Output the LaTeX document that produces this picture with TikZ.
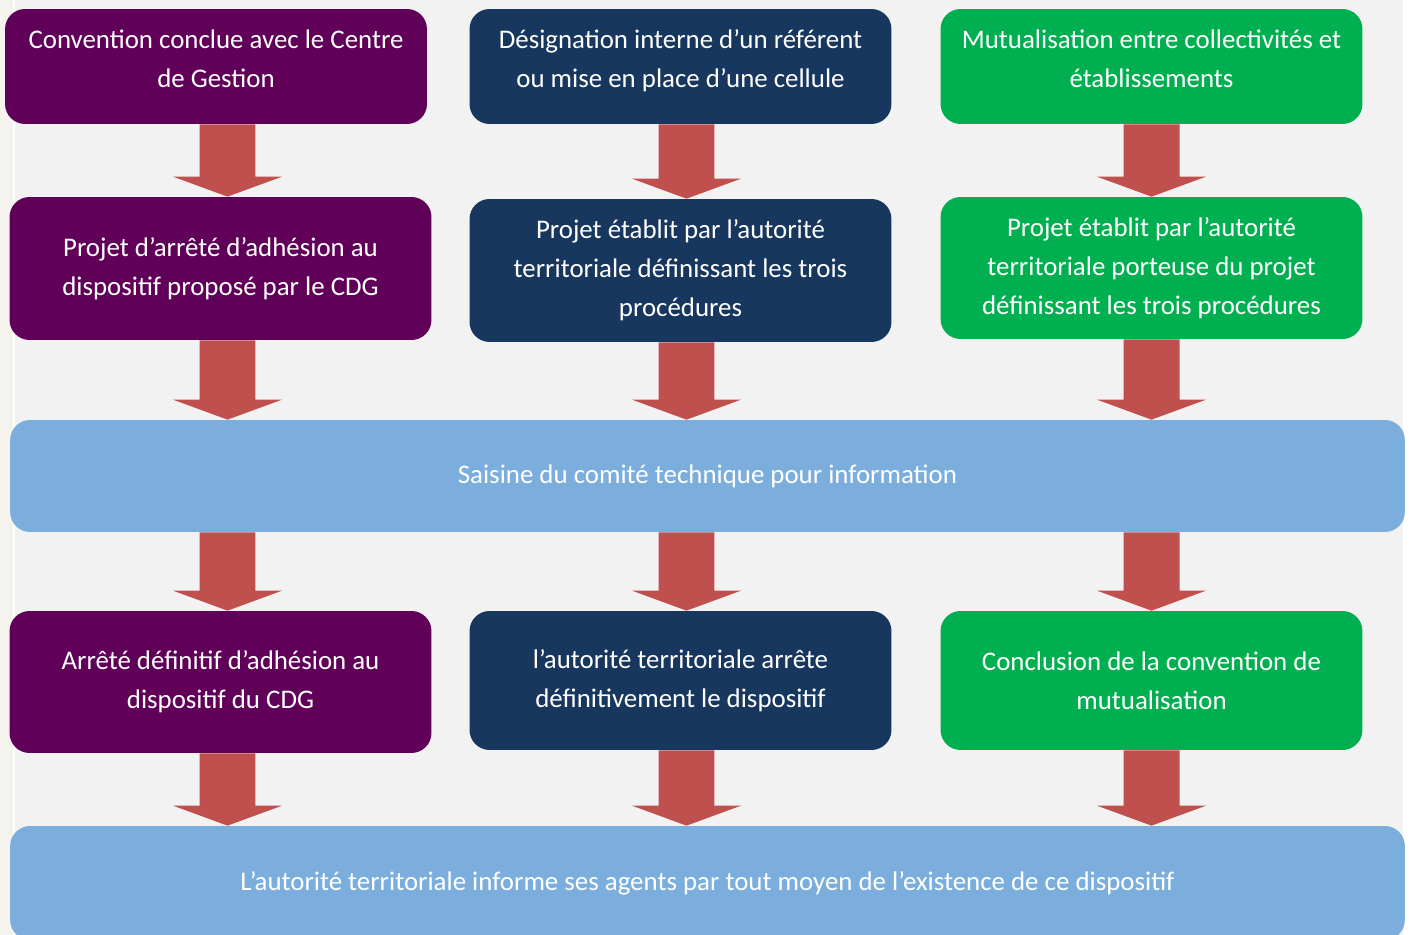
\documentclass[tikz,border=0pt]{standalone}
\usepackage{fontspec}
\setmainfont{Carlito}
\usepackage{tikz}
\usetikzlibrary{calc,positioning}
\definecolor{fond}{HTML}{F2F2F2}
\definecolor{bord}{HTML}{F4F3EE}
\definecolor{prune}{HTML}{600058}
\definecolor{marine}{HTML}{17375E}
\definecolor{vertvif}{HTML}{00B050}
\definecolor{bleuclair}{HTML}{7BAEDC}
\definecolor{rougefl}{HTML}{C0504D}
\tikzset{
  etape/.style={rounded corners=0.4cm, text=white, align=center,
    font=\fontsize{15.3}{22.1}\selectfont, minimum width=8.44cm, inner sep=0pt},
  haut/.style={etape, minimum height=2.3cm, text depth=9pt},
  large/.style={etape, minimum width=27.9cm, minimum height=2.24cm},
  fleche/.style={fill=rougefl, to path={let \p1=(\tikztostart), \p2=(\tikztotarget) in
    ({\x1-0.56cm},\y1) -- ({\x1+0.56cm},\y1) -- ({\x1+0.56cm},{\y2+0.4cm})
    -- ({\x1+1.09cm},{\y2+0.4cm}) -- (\x1,\y2) -- ({\x1-1.09cm},{\y2+0.4cm})
    -- ({\x1-0.56cm},{\y2+0.4cm}) -- cycle}}
}

\begin{document}
\begin{tikzpicture}[x=0.02cm,y=-0.02cm]

% Fond
\useasboundingbox (0,0) rectangle (1411,935);
\fill[white] (0,0) rectangle (1411,935);
\fill[bord] (0,0) rectangle (13,935);
\fill[fond] (15,0) rectangle (1403,935);

% Colonnes des fleches
\coordinate (col1) at (227.5,0);
\coordinate (col2) at (686.5,0);
\coordinate (col3) at (1151.5,0);

% Premiere ligne
\node[haut, fill=prune] (conv) at (216,66.5)
  {Convention conclue avec le Centre\\de Gestion};
\node[haut, fill=marine] (desig) at (680.5,66.5)
  {Désignation interne d’un référent\\ou mise en place d’une cellule};
\node[haut, fill=vertvif] (mutu) at (1151.5,66.5)
  {Mutualisation entre collectivités et\\établissements};

% Projets
\node[etape, fill=prune, minimum height=2.86cm] (proj1) at (220.5,268.5)
  {Projet d’arrêté d’adhésion au\\dispositif proposé par le CDG};
\node[etape, fill=marine, minimum height=2.86cm] (proj2) at (680.5,270.5)
  {Projet établit par l’autorité\\territoriale définissant les trois\\procédures};
\node[etape, fill=vertvif, minimum height=2.84cm] (proj3) at (1151.5,268)
  {Projet établit par l’autorité\\territoriale porteuse du projet\\définissant les trois procédures};

% Comite technique
\node[large, fill=bleuclair] (saisine) at (707.5,476)
  {Saisine du comité technique pour information};

% Arretes
\node[etape, fill=prune, minimum height=2.84cm] (arr1) at (220.5,682)
  {Arrêté définitif d’adhésion au\\dispositif du CDG};
\node[etape, fill=marine, minimum height=2.78cm] (arr2) at (680.5,680.5)
  {l’autorité territoriale arrête\\définitivement le dispositif};
\node[etape, fill=vertvif, minimum height=2.78cm] (arr3) at (1151.5,680.5)
  {Conclusion de la convention de\\mutualisation};

% Information des agents
\node[large, fill=bleuclair, minimum height=2.28cm] (info) at (707.5,883)
  {L’autorité territoriale informe ses agents par tout moyen de l’existence de ce dispositif};

% Fleches
\path[fleche] (conv.south -| col1) to (proj1.north -| col1);
\path[fleche] (desig.south -| col2) to (proj2.north -| col2);
\path[fleche] (mutu.south -| col3) to (proj3.north -| col3);

\path[fleche] (proj1.south -| col1) to (saisine.north -| col1);
\path[fleche] (proj2.south -| col2) to (saisine.north -| col2);
\path[fleche] (proj3.south -| col3) to (saisine.north -| col3);

\path[fleche] (saisine.south -| col1) to (arr1.north -| col1);
\path[fleche] (saisine.south -| col2) to (arr2.north -| col2);
\path[fleche] (saisine.south -| col3) to (arr3.north -| col3);

\path[fleche] (arr1.south -| col1) to (info.north -| col1);
\path[fleche] (arr2.south -| col2) to (info.north -| col2);
\path[fleche] (arr3.south -| col3) to (info.north -| col3);

\end{tikzpicture}
\end{document}
